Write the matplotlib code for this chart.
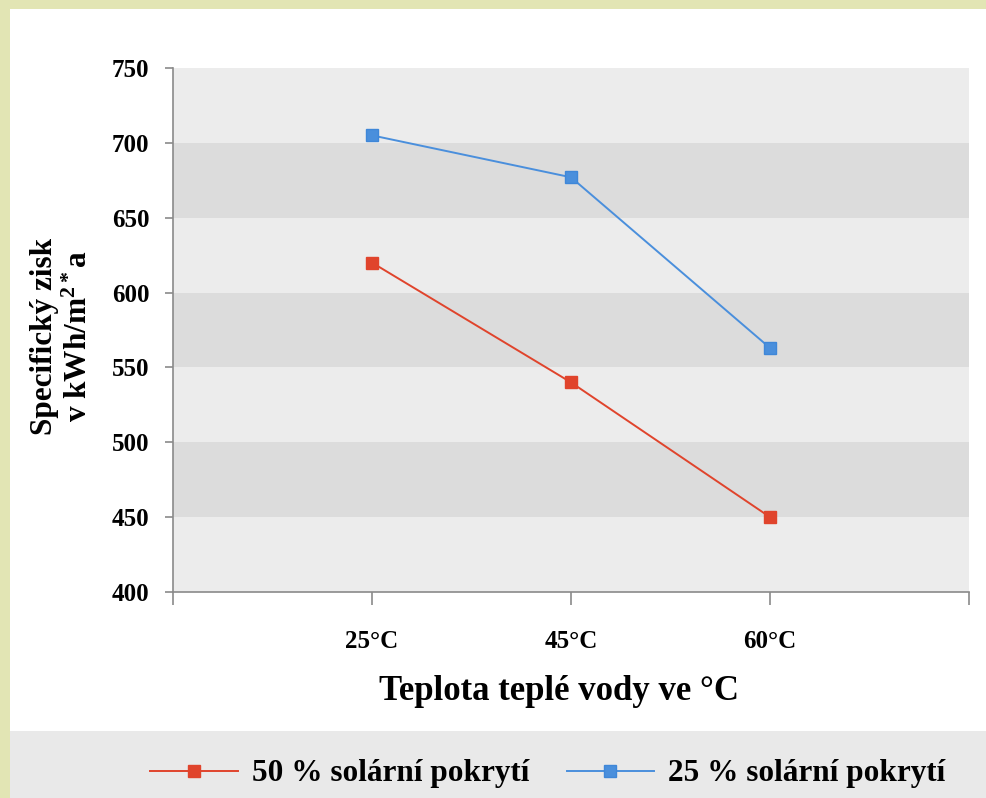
import matplotlib
matplotlib.use("Agg")
import matplotlib.pyplot as plt
from matplotlib.patches import Rectangle

# ---- data ----
categories = ["25°C", "45°C", "60°C"]
series_50 = [620, 540, 450]   # 50 % solární pokrytí
series_25 = [705, 677, 563]   # 25 % solární pokrytí
series_names = ["50 % solární pokrytí", "25 % solární pokrytí"]
y_ticks = [400, 450, 500, 550, 600, 650, 700, 750]

plt.rcParams['font.family'] = ['Liberation Serif', 'DejaVu Serif']
plt.rcParams['font.weight'] = 'bold'
plt.rcParams['mathtext.fontset'] = 'custom'
plt.rcParams['mathtext.rm'] = 'Liberation Serif:bold'
plt.rcParams['mathtext.it'] = 'Liberation Serif:bold'
plt.rcParams['mathtext.bf'] = 'Liberation Serif:bold'

W, H = 987, 798
fig = plt.figure(figsize=(W / 100, H / 100), dpi=100)
fig.patch.set_facecolor('#e2e5b4')

# white page and grey legend strip
fig.patches.append(Rectangle((10 / W, 0), 1 - 10 / W, 1 - 9 / H, transform=fig.transFigure,
                             facecolor='white', edgecolor='none', zorder=-5))
fig.patches.append(Rectangle((10 / W, 0), 1 - 10 / W, (H - 731) / H, transform=fig.transFigure,
                             facecolor='#e9e9e9', edgecolor='none', zorder=-4))

left, right, top, bottom = 173, 969, 68, 592
ax = fig.add_axes([left / W, 1 - bottom / H, (right - left) / W, (bottom - top) / H])
ax.set_zorder(1)
ax.set_facecolor('#ececec')

# alternating horizontal bands
for i in range(len(y_ticks) - 1):
    col = '#dcdcdc' if i % 2 == 1 else '#ececec'
    ax.axhspan(y_ticks[i], y_ticks[i + 1], color=col, lw=0, zorder=0)

x = list(range(1, len(categories) + 1))
l1, = ax.plot(x, series_50, color='#e0442c', lw=1.4, marker='s', ms=8,
              markeredgecolor='#e0442c', zorder=3)
l2, = ax.plot(x, series_25, color='#4a8fdc', lw=1.4, marker='s', ms=8,
              markeredgecolor='#3f87d8', zorder=3)

ax.set_xlim(0, len(categories) + 1)
ax.set_ylim(y_ticks[0], y_ticks[-1])
ax.set_yticks(y_ticks)
ax.set_yticklabels([str(v) for v in y_ticks], fontsize=18, fontweight='bold')
ax.set_xticks(range(0, len(categories) + 2))
ax.set_xticklabels([''] + categories + [''], fontsize=18, fontweight='bold')

for s in ['top', 'right']:
    ax.spines[s].set_visible(False)
for s in ['left', 'bottom']:
    ax.spines[s].set_color('#8a8a8a')
    ax.spines[s].set_linewidth(1.2)
ax.tick_params(axis='y', direction='out', length=6, width=1.2, color='#8a8a8a', pad=11)
ax.tick_params(axis='x', direction='out', length=9, width=1.2, color='#8a8a8a', pad=18)

ax.set_xlabel("Teplota teplé vody ve °C", fontsize=25, fontweight='bold')
ax.xaxis.set_label_coords((559 - left) / (right - left), -(692 - bottom) / (bottom - top))
ax.xaxis.label.set_va('center')
ax.set_ylabel("Specifický zisk\nv kWh/m$^{2*}$a", fontsize=22.5, fontweight='bold',
              linespacing=1.25)
ax.yaxis.set_label_coords(-(left - 62) / (right - left), (bottom - 336) / (bottom - top))
ax.yaxis.label.set_va('center')

leg = fig.legend([l1, l2], series_names, loc='center', bbox_to_anchor=(0.555, 1 - 774 / H),
                 ncol=2, frameon=False, handlelength=2.8, handletextpad=0.45,
                 columnspacing=1.2, prop={'weight': 'bold', 'size': 22.5})
leg.set_zorder(2)

fig.savefig('out.png', dpi=100)
